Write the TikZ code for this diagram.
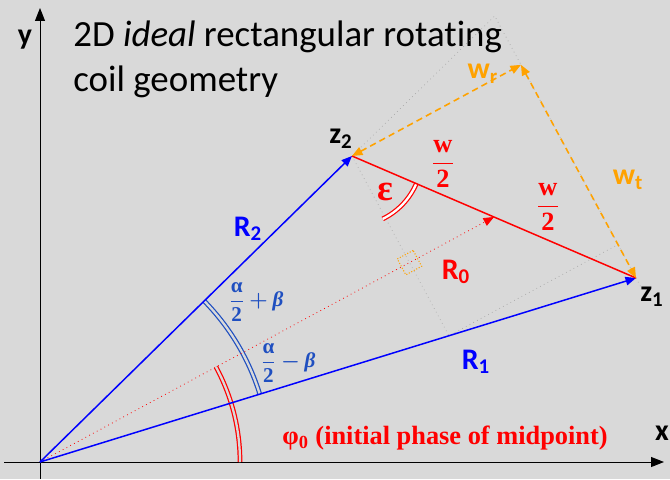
\documentclass[tikz,border=0pt]{standalone}
\usepackage[no-math]{fontspec}
\setmainfont{Carlito}[Ligatures=NoCommon]
\newfontfamily\serifGras{Liberation Serif}
\usepackage{amsmath}
\newcommand{\gras}[1]{\text{\serifGras\bfseries #1}}
\usepackage{xcolor}
\definecolor{coilBlue}{HTML}{0000FF}
\definecolor{coilBlueDark}{HTML}{1F4FC0}
\definecolor{coilRed}{HTML}{FF0000}
\definecolor{coilOrange}{HTML}{FFA200}
\definecolor{coilGreyBg}{HTML}{D9D9D9}
\definecolor{coilGreyLine}{HTML}{A8A8A8}
\usepackage{tikz}
\usetikzlibrary{arrows.meta, calc}
\tikzset{
  %% ── Lines ────────────────────────────────────────────────────────────
  %% The vectors are the subject; the construction lines only say where the
  %% projections fall, so they stay thin, dotted and grey.
  axe/.style          = {-{Triangle[length=2.6mm, width=2.0mm]}, draw=black,
                         line width=0.55pt},
  vecteurBleu/.style  = {-{Triangle[length=2.1mm, width=1.7mm]}, draw=coilBlue,
                         line width=0.85pt},
  rayonMilieu/.style  = {-{Triangle[length=2.1mm, width=1.7mm]}, draw=coilRed,
                         line width=0.45pt, dotted},
  segment/.style      = {draw=coilRed, line width=0.85pt},
  flecheOrange/.style = {{Triangle[length=2.1mm, width=1.7mm]}-{Triangle[length=2.1mm, width=1.7mm]},
                         draw=coilOrange, line width=0.9pt,
                         dash pattern=on 3.6pt off 2.4pt},
  construction/.style = {draw=coilGreyLine, line width=0.4pt, dotted},
  %%
  %% ── Angles ───────────────────────────────────────────────────────────
  arcBleu/.style      = {draw=coilBlueDark, line width=0.7pt,
                         double=coilGreyBg, double distance=1.3pt},
  arcRouge/.style     = {draw=coilRed, line width=0.7pt,
                         double=coilGreyBg, double distance=1.3pt},
  arcEpsilon/.style   = {arcRouge, double=white},
  angleDroit/.style   = {draw=coilOrange, line width=0.6pt, densely dotted,
                         minimum size=0.36cm, inner sep=0pt},
  %%
  %% ── Text ─────────────────────────────────────────────────────────────
  etiquette/.style    = {font=\fontsize{17}{20}\selectfont\bfseries, inner sep=1pt},
  fraction/.style     = {font=\fontsize{15}{18}\selectfont, inner sep=1pt},
  titre/.style        = {font=\fontsize{21}{25}\selectfont, anchor=base west,
                         inner sep=0pt},
}

\begin{document}
\begin{tikzpicture}[x=1cm, y=1cm]

\fill[coilGreyBg] (0, 0) rectangle (13.4, 9.58);
\useasboundingbox (0, 0) rectangle (13.4, 9.58);

\coordinate (O)  at (0.80, 0.34);
\coordinate (z2) at (7.04, 6.46);
\coordinate (z1) at (12.72, 4.02);
\coordinate (M)  at ($(z2)!0.5!(z1)$);
\coordinate (dirR0) at ($(z2)+(M)-(O)$);
\coordinate (W)  at ($(z2)!(z1)!(dirR0)$);
\coordinate (F)  at ($(O)!(z2)!(M)$);
\coordinate (G)  at (intersection of z2--F and O--z1);
\coordinate (dirG) at ($(G)+(M)-(O)$);
\coordinate (H)  at (intersection of G--dirG and W--z1);
\coordinate (T)  at (intersection of O--z2 and W--z1);
\coordinate (E)  at ($(T)!1.04!(z1)$);
\coordinate (xdebut) at (0.08, 0.34);
\coordinate (xfin)   at (13.28, 0.34);
\coordinate (ydebut) at (0.80, 0);
\coordinate (yfin)   at (0.80, 9.42);

\node[titre] (titre1) at (1.46, 8.64) {2D \textit{ideal} rectangular rotating};
\node[titre] (titre2) at (1.46, 7.74) {coil geometry};

\draw[construction] (z2) -- (T) -- (E);
\draw[construction] (z2) -- (G) -- (H);

\draw[axe] (xdebut) -- (xfin);
\draw[axe] (ydebut) -- (yfin);

\draw[arcRouge] ($(O)+(0:4.0)$) arc[start angle=0, end angle=28.4, radius=4.0];
\draw[arcBleu] ($(O)+(17.2:4.6)$) arc[start angle=17.2, end angle=44.4, radius=4.6];
\draw[arcEpsilon] ($(z2)+(-23.2:1.4)$) arc[start angle=-23.2, end angle=-64, radius=1.4];
\node[angleDroit, rotate=28.4] (droit) at (F) {};

\draw[rayonMilieu] (O) -- (M);
\draw[vecteurBleu] (O) -- (z2);
\draw[vecteurBleu] (O) -- (z1);
\draw[segment] (z2) -- (z1);
\draw[flecheOrange] (z2) -- (W);
\draw[flecheOrange] (W) -- (z1);

\node[etiquette] (ey)  at (0.50, 8.78) {y};
\node[etiquette] (ex)  at (13.24, 0.92) {x};
\node[etiquette] (ez2) at (6.82, 6.80) {z\textsubscript{2}};
\node[etiquette] (ez1) at (13.04, 3.64) {z\textsubscript{1}};
\node[etiquette, text=coilBlue] (eR2) at (4.96, 5.00) {R\textsubscript{2}};
\node[etiquette, text=coilBlue] (eR1) at (9.52, 2.34) {R\textsubscript{1}};
\node[etiquette, text=coilRed] (eR0) at (9.12, 4.14) {R\textsubscript{0}};
\node[etiquette, inner sep=0pt, text=coilOrange] (ewr) at (9.66, 8.10) {w\textsubscript{r}};
\node[etiquette, text=coilOrange] (ewt) at (12.56, 5.98) {w\textsubscript{t}};
\node[fraction, text=coilRed] (demi1) at (8.86, 6.30) {$\dfrac{\gras{w}}{\gras{2}}$};
\node[fraction, text=coilRed] (demi2) at (10.96, 5.44) {$\dfrac{\gras{w}}{\gras{2}}$};
\node[fraction, font=\fontsize{21}{24}\selectfont, text=coilRed] (eps) at (7.70, 5.74)
     {\serifGras\bfseries ε};
\node[fraction, font=\fontsize{12}{14}\selectfont, text=coilBlueDark] (plus) at (5.12, 3.54)
     {$\dfrac{\gras{α}}{\gras{2}}\boldsymbol{+}\gras{\itshape β}$};
\node[fraction, font=\fontsize{12}{14}\selectfont, text=coilBlueDark] (moins) at (5.76, 2.32)
     {$\dfrac{\gras{α}}{\gras{2}}\boldsymbol{-}\gras{\itshape β}$};
\node[fraction, text=coilRed] (phi) at (8.90, 0.82)
     {\serifGras\bfseries φ\textsubscript{0} (initial phase of midpoint)};

\end{tikzpicture}
\end{document}
